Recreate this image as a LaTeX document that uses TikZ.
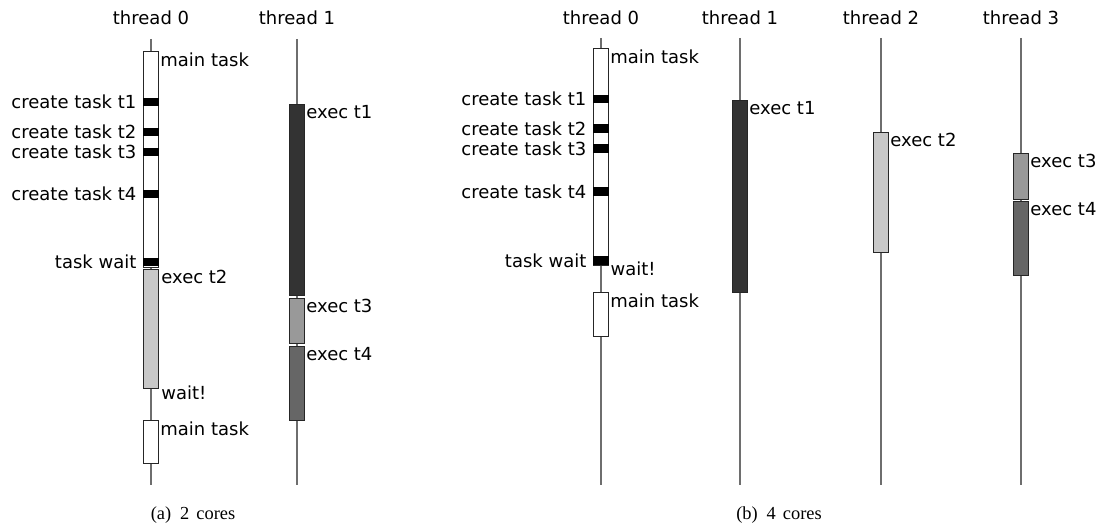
\documentclass[tikz,border=0pt]{standalone}
\usepackage{fontspec}
\setmainfont{Liberation Serif}
\newfontfamily\lanefont{DejaVu Sans}
\usetikzlibrary{positioning}
\definecolor{lanegray}{HTML}{6E6E6E}
\definecolor{tone}{HTML}{333333}
\definecolor{ttwo}{HTML}{C8C8C8}
\definecolor{tthree}{HTML}{999999}
\definecolor{tfour}{HTML}{666666}
\tikzset{
  thr/.style={font=\lanefont\fontsize{9}{10}\selectfont, inner sep=0pt},
  lane/.style={draw=lanegray, line width=0.6pt},
  job/.style={rectangle, draw=black!85, fill=white, line width=0.5pt, anchor=north,
              minimum width=7.5pt, inner sep=0pt},
  bar/.style={rectangle, fill=black, minimum width=7.8pt, minimum height=4.2pt, inner sep=0pt},
  lbl/.style={font=\lanefont\fontsize{9}{10}\selectfont, inner sep=0.5pt},
  subcap/.style={font=\fontsize{9.2}{11}\selectfont, inner sep=0pt}
}

\begin{document}
\begin{tikzpicture}[x=0.5pt, y=-0.5pt]
  \useasboundingbox (0,0) rectangle (1104,529);

  % (a) 2 cores
  \node[thr] (a0) at (151,18) {thread 0};
  \node[thr] (a1) at (297,18) {thread 1};
  \coordinate (a0top) at (151,39); \coordinate (a0end) at (151,485);
  \coordinate (a1top) at (297,39); \coordinate (a1end) at (297,485);
  \draw[lane] (a0top) -- (a0end);
  \draw[lane] (a1top) -- (a1end);

  \node[job, minimum height=108pt] (am) at (151,51) {};
  \node[lbl, below right=0pt and 0pt of am.north east] (amL) {main task};
  \foreach \y/\t [count=\i] in {102/create task t1,132/create task t2,152/create task t3,194/create task t4,262/task wait} {
    \node[bar] (ab\i) at (151,\y) {};
    \node[lbl, left=2.5pt of ab\i] (abL\i) {\t};
  }
  \node[job, fill=ttwo, minimum height=59.5pt] (ae2) at (151,269) {};
  \node[lbl, below right=0pt and 0.5pt of ae2.north east] (ae2L) {exec t2};
  \node[lbl, below right=-2.5pt and 0.5pt of ae2.south east] (awL) {wait!};
  \node[job, minimum height=21.5pt] (am2) at (151,420) {};
  \node[lbl, below right=0pt and 0pt of am2.north east] (am2L) {main task};

  \node[job, fill=tone, minimum height=95.5pt] (ae1) at (297,104) {};
  \node[lbl, below right=0pt and 0pt of ae1.north east] (ae1L) {exec t1};
  \node[job, fill=tthree, minimum height=22.5pt] (ae3) at (297,298) {};
  \node[lbl, below right=0pt and 0pt of ae3.north east] (ae3L) {exec t3};
  \node[job, fill=tfour, minimum height=37pt] (ae4) at (297,346) {};
  \node[lbl, below right=0pt and 0pt of ae4.north east] (ae4L) {exec t4};

  \node[subcap] (acap) at (193,515) {(a)\hspace{4.5pt}2\hspace{3.5pt}cores};

  % (b) 4 cores
  \node[thr] (b0) at (601,18) {thread 0};
  \node[thr] (b1) at (740,18) {thread 1};
  \node[thr] (b2) at (881,18) {thread 2};
  \node[thr] (b3) at (1021,18) {thread 3};
  \foreach \n/\x in {b0/601,b1/740,b2/881,b3/1021} {
    \coordinate (\n top) at (\x,38); \coordinate (\n end) at (\x,485);
    \draw[lane] (\n top) -- (\n end);
  }

  \node[job, minimum height=108.5pt] (bm) at (601,48) {};
  \node[lbl, below right=0pt and 0pt of bm.north east] (bmL) {main task};
  \foreach \y/\t [count=\i] in {99/create task t1,128.5/create task t2,148.5/create task t3,191.5/create task t4,260.5/task wait} {
    \node[bar] (bb\i) at (601,\y) {};
    \node[lbl, left=2.5pt of bb\i] (bbL\i) {\t};
  }
  \node[lbl, below right=-2.5pt and 0pt of bb5.south east] (bwL) {wait!};
  \node[job, minimum height=22pt] (bm2) at (601,292) {};
  \node[lbl, below right=0pt and 0pt of bm2.north east] (bm2L) {main task};

  \node[job, fill=tone, minimum height=96pt] (be1) at (740,100) {};
  \node[lbl, below right=0pt and 0pt of be1.north east] (be1L) {exec t1};
  \node[job, fill=ttwo, minimum height=60pt] (be2) at (881,132) {};
  \node[lbl, below right=0pt and 0pt of be2.north east] (be2L) {exec t2};
  \node[job, fill=tthree, minimum height=23pt] (be3) at (1021,153) {};
  \node[lbl, below right=0pt and 0pt of be3.north east] (be3L) {exec t3};
  \node[job, fill=tfour, minimum height=37pt] (be4) at (1021,201) {};
  \node[lbl, below right=0pt and 0pt of be4.north east] (be4L) {exec t4};

  \node[subcap] (bcap) at (779,515) {(b)\hspace{4.5pt}4\hspace{3.5pt}cores};
\end{tikzpicture}
\end{document}
